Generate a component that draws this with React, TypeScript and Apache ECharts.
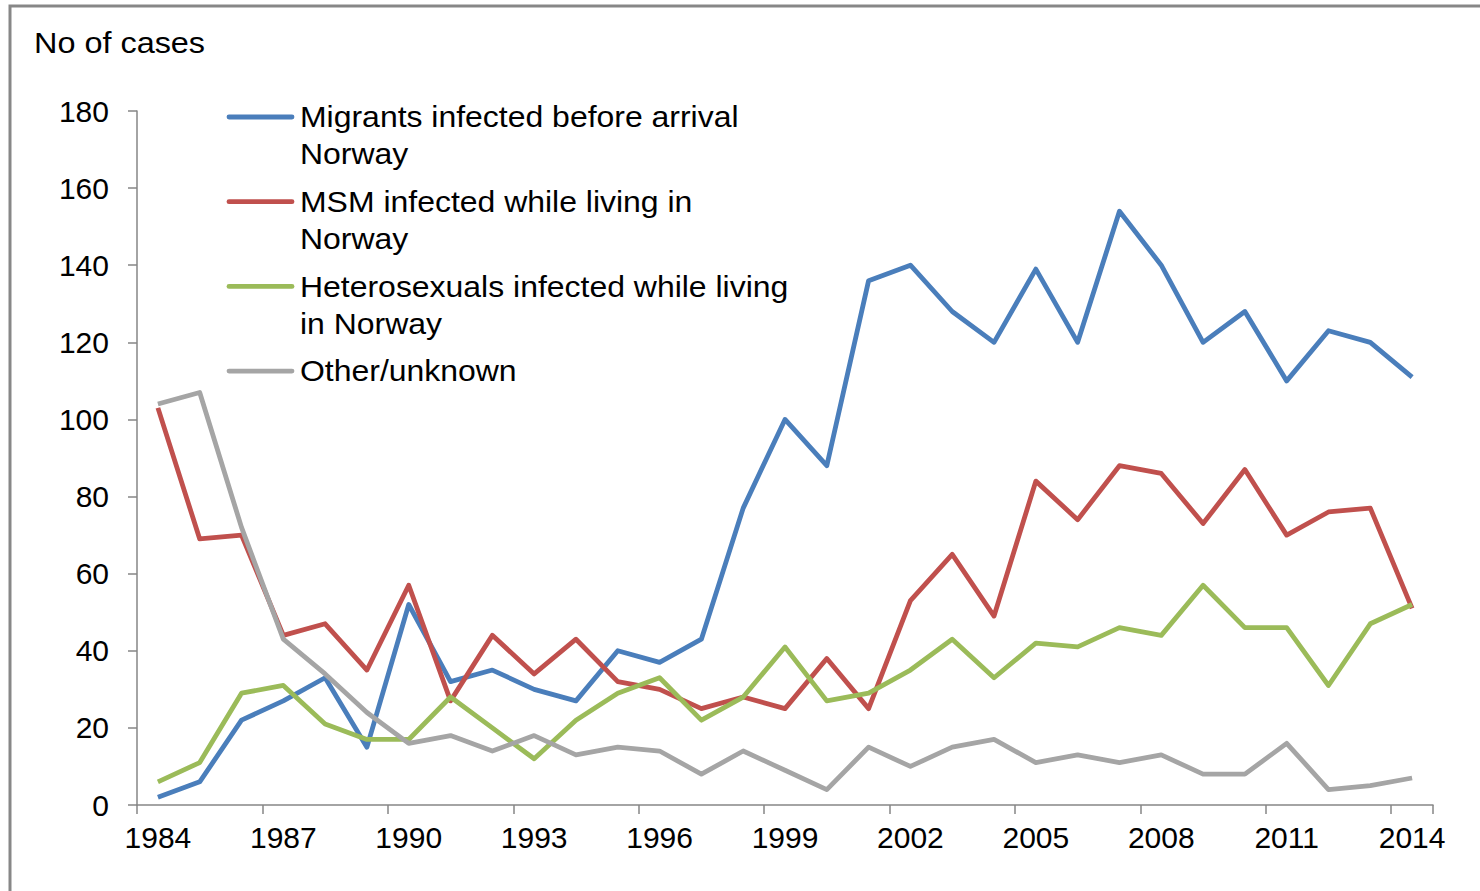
import React, { useEffect, useRef } from "react";
import * as echarts from "echarts";

const years = [
  "1984", "1985", "1986", "1987", "1988", "1989", "1990", "1991", "1992", "1993", "1994",
  "1995", "1996", "1997", "1998", "1999", "2000", "2001", "2002", "2003", "2004",
  "2005", "2006", "2007", "2008", "2009", "2010", "2011", "2012", "2013", "2014",
];

const migrants = [2, 6, 22, 27, 33, 15, 52, 32, 35, 30, 27, 40, 37, 43, 77, 100, 88, 136, 140, 128, 120, 139, 120, 154, 140, 120, 128, 110, 123, 120, 111];
const msm = [103, 69, 70, 44, 47, 35, 57, 27, 44, 34, 43, 32, 30, 25, 28, 25, 38, 25, 53, 65, 49, 84, 74, 88, 86, 73, 87, 70, 76, 77, 51];
const hetero = [6, 11, 29, 31, 21, 17, 17, 28, 20, 12, 22, 29, 33, 22, 28, 41, 27, 29, 35, 43, 33, 42, 41, 46, 44, 57, 46, 46, 31, 47, 52];
const other = [104, 107, 72, 43, 34, 24, 16, 18, 14, 18, 13, 15, 14, 8, 14, 9, 4, 15, 10, 15, 17, 11, 13, 11, 13, 8, 8, 16, 4, 5, 7];

const seriesNames = [
  "Migrants infected before arrival\nNorway",
  "MSM infected while living in\nNorway",
  "Heterosexuals infected while living\nin Norway",
  "Other/unknown",
];
const seriesColors = ["#4A7EBB", "#C0504D", "#9BBB59", "#A5A5A5"];
const seriesData = [migrants, msm, hetero, other];

const yTitle = "No of cases";
const FONT = "'Liberation Sans', Arial, sans-serif";

export default function App() {
  const ref = useRef<HTMLDivElement>(null);

  useEffect(() => {
    if (!ref.current) return;
    const chart = echarts.init(ref.current, null, { renderer: "svg" });

    const legendGraphics: any[] = [];
    seriesNames.forEach((name, i) => {
      const cy = 117 + i * 84.7;
      legendGraphics.push({
        type: "line",
        shape: { x1: 229, y1: cy, x2: 292, y2: cy },
        style: { stroke: seriesColors[i], lineWidth: 4.8, lineCap: "round" },
        z: 100,
      });
      legendGraphics.push({
        type: "text",
        x: 300,
        y: cy - 18.5,
        scaleX: 1.065,
        style: {
          text: name,
          font: `30px ${FONT}`,
          fill: "#000",
          lineHeight: 37,
          verticalAlign: "top",
          align: "left",
        },
        z: 100,
      });
    });

    chart.setOption({
      animation: false,
      backgroundColor: "#fff",
      grid: { left: 137, top: 111, right: 47, bottom: 86, containLabel: false },
      xAxis: {
        type: "category",
        data: years,
        boundaryGap: true,
        axisLine: { show: true, lineStyle: { color: "#868686", width: 1.5 } },
        axisTick: { show: true, interval: 2, length: 9, lineStyle: { color: "#868686", width: 1.5 } },
        axisLabel: {
          interval: 2,
          margin: 17,
          color: "#000",
          fontSize: 30,
          fontFamily: FONT,
        },
        splitLine: { show: false },
      },
      yAxis: {
        type: "value",
        min: 0,
        max: 180,
        interval: 20,
        axisLine: { show: true, lineStyle: { color: "#868686", width: 1.5 } },
        axisTick: { show: true, length: 9, lineStyle: { color: "#868686", width: 1.5 } },
        axisLabel: {
          margin: 28,
          color: "#000",
          fontSize: 30,
          fontFamily: FONT,
        },
        splitLine: { show: false },
      },
      series: seriesNames.map((name, i) => ({
        name,
        type: "line",
        data: seriesData[i],
        symbol: "none",
        lineStyle: { color: seriesColors[i], width: 4.8, join: "round" },
        itemStyle: { color: seriesColors[i] },
      })),
      graphic: [
        {
          type: "rect",
          shape: { x: 10, y: 6, width: 1500, height: 920 },
          style: { fill: "none", stroke: "#878787", lineWidth: 3 },
          z: 0,
        },
        {
          type: "text",
          x: 34,
          y: 43,
          scaleX: 1.08,
          style: {
            text: yTitle,
            font: `30px ${FONT}`,
            fill: "#000",
            verticalAlign: "middle",
            align: "left",
          },
        },
        ...legendGraphics,
      ],
    });

    return () => chart.dispose();
  }, []);

  return (
    <div
      ref={ref}
      style={{ position: "absolute", left: 0, top: 0, width: 1480, height: 891 }}
    />
  );
}
